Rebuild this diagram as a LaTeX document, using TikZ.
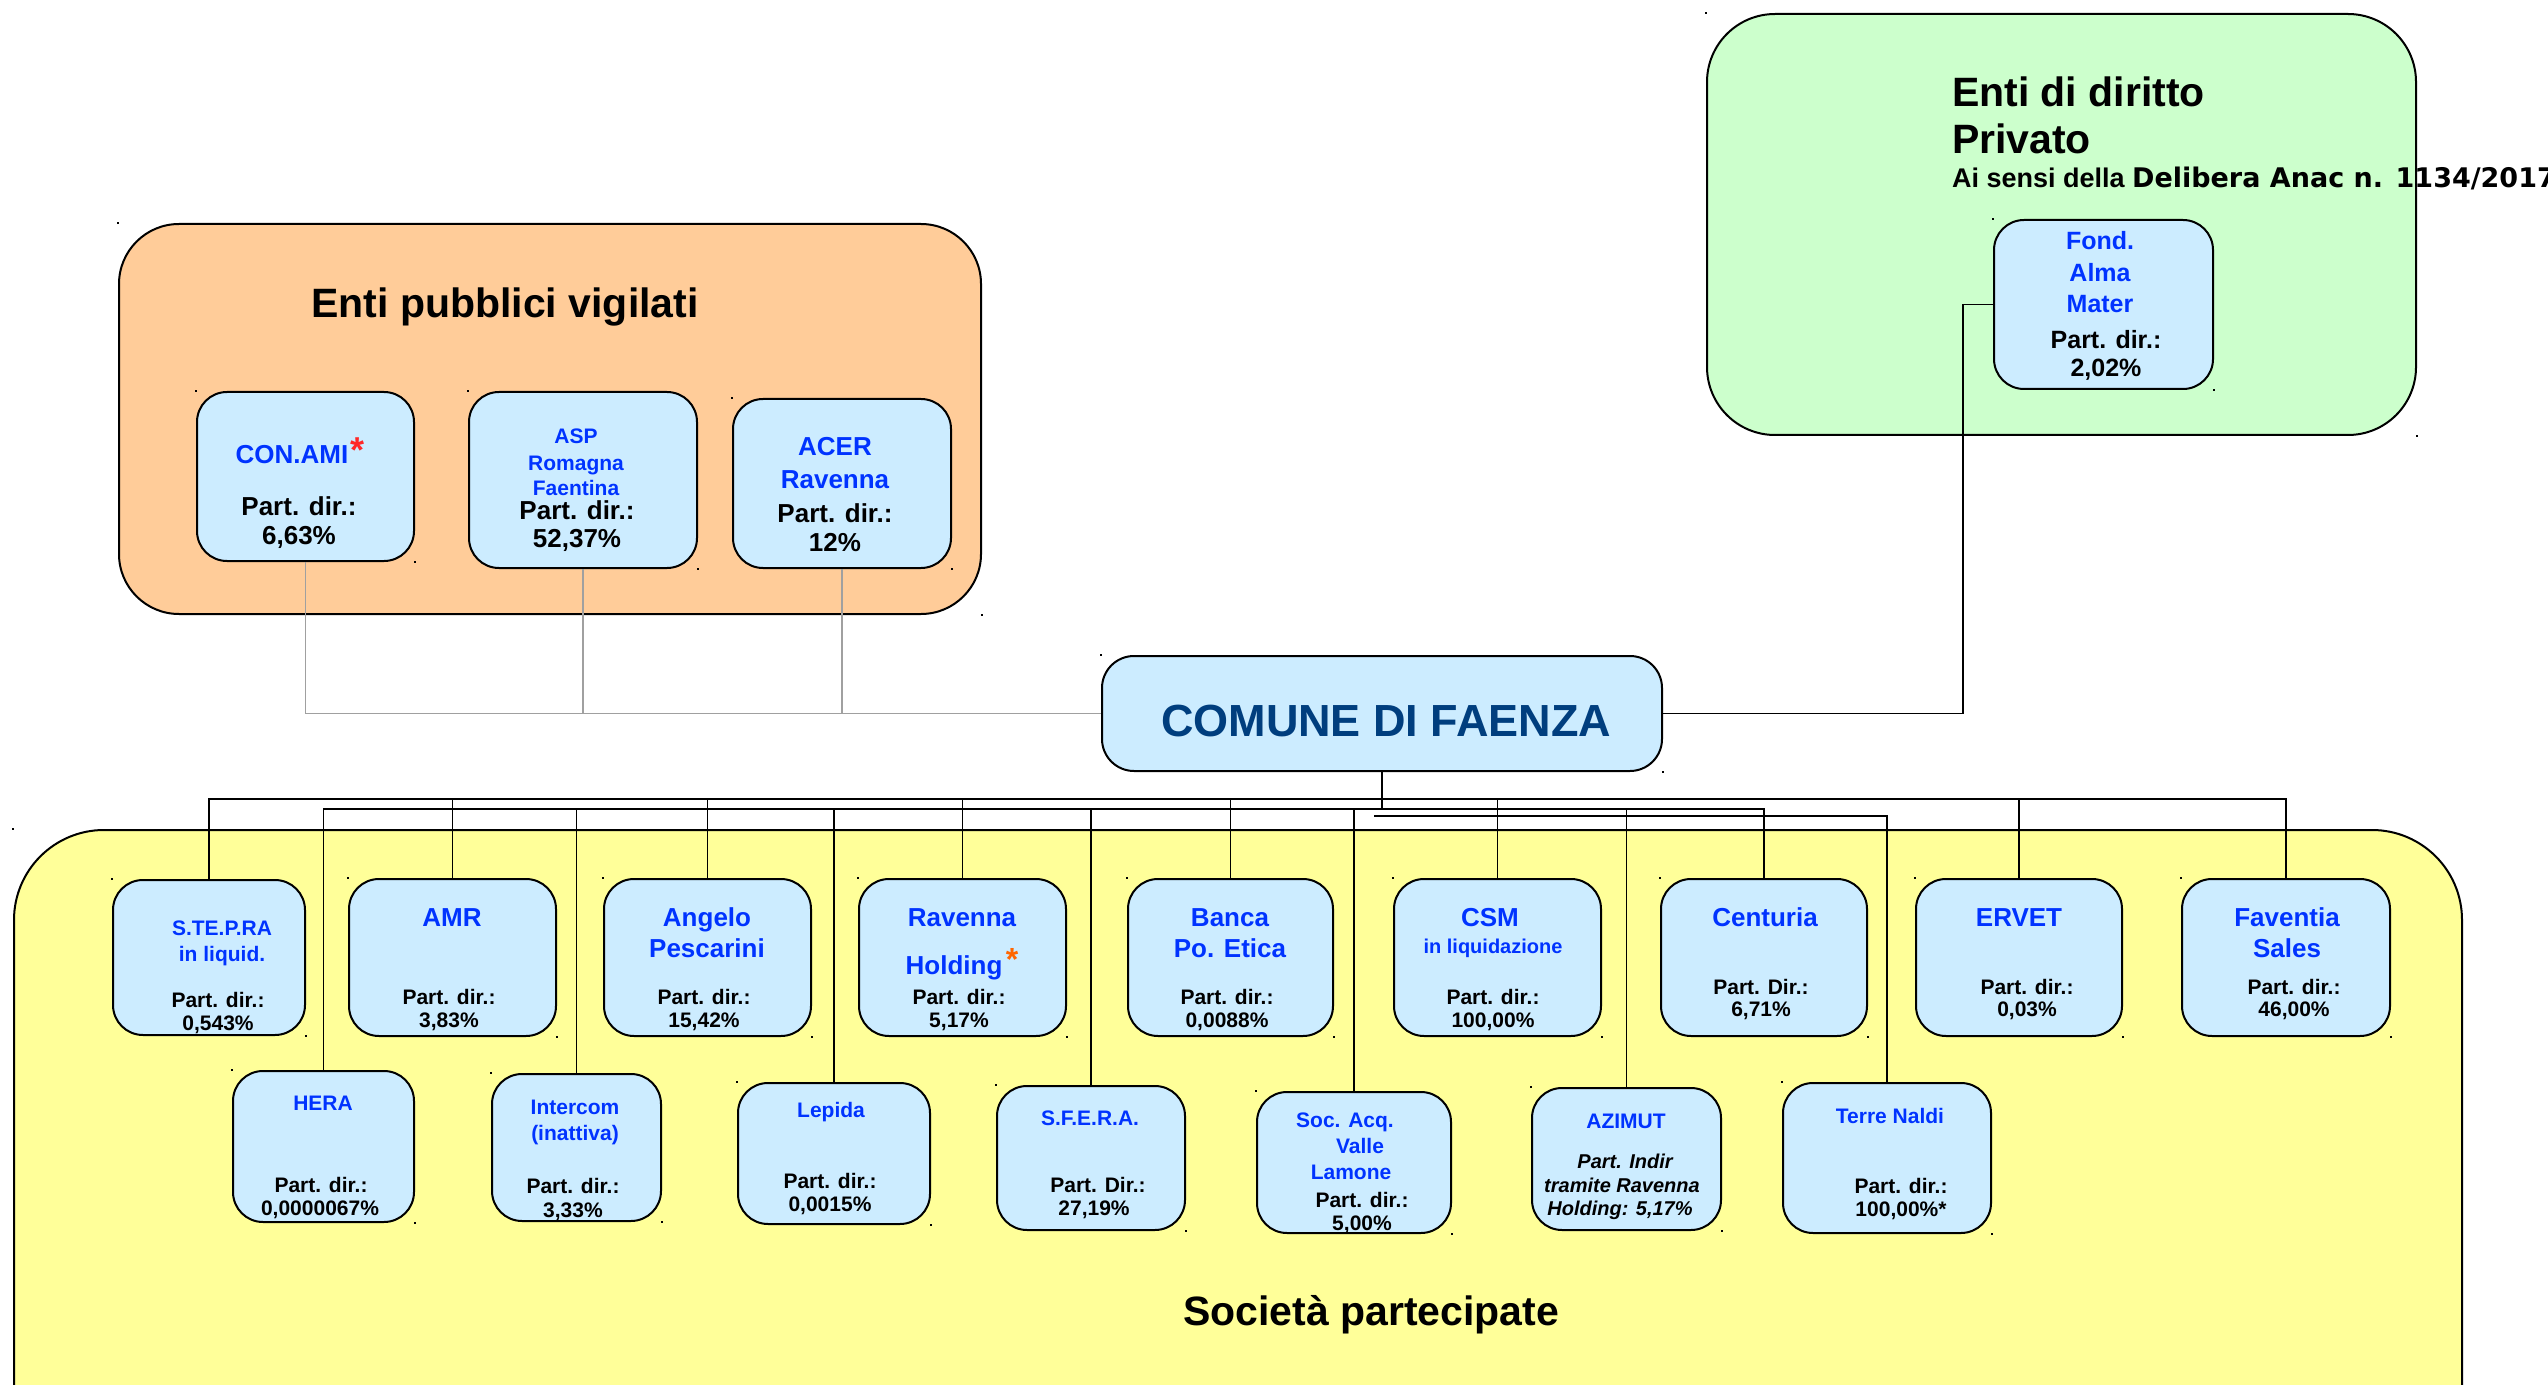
\documentclass[tikz,border=0pt]{standalone}
\usepackage{fontspec}
\setmainfont{Liberation Sans}
\newfontfamily\djv{DejaVu Sans}
\definecolor{boxblue}{RGB}{204,236,255}
\definecolor{orangebg}{RGB}{255,204,153}
\definecolor{greenbg}{RGB}{204,255,204}
\definecolor{yellowbg}{RGB}{255,255,153}
\definecolor{tblue}{RGB}{0,51,255}
\definecolor{navy}{RGB}{0,62,126}
\definecolor{gline}{RGB}{160,160,160}
\definecolor{starred}{RGB}{255,40,40}
\definecolor{starorange}{RGB}{255,102,0}
\newcommand\mkbox[6]{\node[#6, minimum width={(#4-#2)*0.5pt}, minimum height={(#5-#3)*0.5pt}] (#1) at ({(#2+#4)/2},{(#3+#5)/2}) {};}
\begin{document}
\begin{tikzpicture}[x=0.5pt,y=-0.5pt,
  big/.style={draw=black, line width=1pt, inner sep=0pt},
  sbox/.style={draw=black, line width=1pt, fill=boxblue, inner sep=0pt, rounded corners=15pt},
  conn/.style={draw=black, line width=0.9pt},
  gconn/.style={draw=gline, line width=0.8pt},
  tx/.style={anchor=base, inner sep=0pt, outer sep=0pt, text=black},
  blu/.style={tx, text=tblue},
  fT/.style={font=\fontsize{20.5}{24}\selectfont\bfseries},
  fL/.style={font=\fontsize{13}{15}\selectfont\bfseries},
  fM/.style={font=\fontsize{12.5}{15}\selectfont\bfseries},
  fS/.style={font=\fontsize{10.5}{12}\selectfont\bfseries},
  fX/.style={font=\fontsize{10}{12}\selectfont\bfseries},
  fI/.style={font=\fontsize{10}{12}\selectfont\bfseries\itshape},
]
\useasboundingbox (0,0) rectangle (2548,1385);
\clip (0,0) rectangle (2548,1385);
\fill[white] (0,0) rectangle (2548,1385);

% big areas
\mkbox{orange}{119}{224}{981}{614}{big, fill=orangebg, rounded corners=30pt}
\mkbox{green}{1707}{14}{2416}{435}{big, fill=greenbg, rounded corners=34pt}
\mkbox{yellow}{14}{830}{2462}{1560}{big, fill=yellowbg, rounded corners=45pt}

% titles
\node[tx, fT] (t-pub) at (505,318) {Enti pubblici vigilati};
\node[tx, fT, anchor=base west] (t-priv1) at (1952,107) {Enti di diritto};
\node[tx, fT, anchor=base west] (t-priv2) at (1952,154) {Privato};
\node[tx, anchor=base west, font=\fontsize{13.5}{16}\selectfont\bfseries] (t-priv3) at (1952,188) {Ai sensi della {\djv\bfseries Delibera Anac n. 1134/2017}};
\node[tx, fT] (t-soc) at (1371,1325) {Società partecipate};

% boxes
\mkbox{comune}{1102}{656}{1662}{771}{sbox, rounded corners=16pt}
\mkbox{conami}{197}{392}{414}{561}{sbox}
\mkbox{asp}{469}{392}{697}{568}{sbox}
\mkbox{acer}{733}{399}{951}{568}{sbox}
\mkbox{fond}{1994}{220}{2213}{389}{sbox}
\mkbox{stepra}{113}{880}{305}{1035}{sbox}
\mkbox{amr}{349}{879}{556}{1036}{sbox}
\mkbox{angelo}{604}{879}{811}{1036}{sbox}
\mkbox{ravenna}{859}{879}{1066}{1036}{sbox}
\mkbox{banca}{1128}{879}{1333}{1036}{sbox}
\mkbox{csm}{1394}{879}{1601}{1036}{sbox}
\mkbox{centuria}{1661}{879}{1867}{1036}{sbox}
\mkbox{ervet}{1916}{879}{2122}{1036}{sbox}
\mkbox{faventia}{2182}{879}{2390}{1036}{sbox}
\mkbox{hera}{233}{1071}{414}{1222}{sbox}
\mkbox{intercom}{492}{1074}{661}{1221}{sbox}
\mkbox{lepida}{738}{1083}{930}{1224}{sbox}
\mkbox{sfera}{997}{1086}{1185}{1230}{sbox}
\mkbox{socacq}{1257}{1092}{1451}{1233}{sbox}
\mkbox{azimut}{1532}{1088}{1721}{1230}{sbox}
\mkbox{terre}{1783}{1083}{1991}{1233}{sbox}

% connectors
\coordinate (ub) at (0,799);
\coordinate (lb) at (0,809);
\coordinate (tb) at (1374,816);
\coordinate (fk) at (1963,0);
\begin{scope}[on background layer/.style={}]
\draw[conn] (stepra.north) |- (faventia.north |- ub) -- (faventia.north);
\foreach \n in {amr,angelo,ravenna,banca,csm,ervet} \draw[conn] (\n.north) -- (\n.north |- ub);
\draw[conn] (hera.north) |- (centuria.north |- lb) -- (centuria.north);
\foreach \n in {intercom,lepida,sfera,socacq,azimut} \draw[conn] (\n.north) -- (\n.north |- lb);
\draw[conn] (comune.south) -- (comune.south |- lb);
\draw[conn] (tb) -| (terre.north);
\draw[gconn] (conami.south) |- (comune.west);
\draw[gconn] (asp.south) -- (asp.south |- comune.west);
\draw[gconn] (acer.south) -- (acer.south |- comune.west);
\draw[conn] (comune.east) -| (fk |- fond.west) -- (fond.west);
\end{scope}

% texts
\node[tx, text=navy, font=\fontsize{22.5}{26}\selectfont\bfseries] (comune-t) at (1386,736) {COMUNE DI FAENZA};

\node[blu, fL] (conami-a) at (292,464) {CON.AMI};
\node[tx, text=starred, font=\fontsize{18}{20}\selectfont\bfseries] (conami-s) at (358,462) {*};
\node[tx, fL] (conami-b) at (299,516) {Part. dir.:};
\node[tx, fL] (conami-c) at (299,544) {6,63\%};

\node[blu, fS] (asp-a) at (576,444) {ASP};
\node[blu, fS] (asp-b) at (576,470) {Romagna};
\node[blu, fS] (asp-c) at (576,495) {Faentina};
\node[tx, fL] (asp-d) at (577,519) {Part. dir.:};
\node[tx, fL] (asp-e) at (577,547) {52,37\%};

\node[blu, fL] (acer-a) at (835,456) {ACER};
\node[blu, fL] (acer-b) at (835,488) {Ravenna};
\node[tx, fL] (acer-c) at (835,522) {Part. dir.:};
\node[tx, fL] (acer-d) at (835,551) {12\%};

\node[blu, fM] (fond-a) at (2100,250) {Fond.};
\node[blu, fM] (fond-b) at (2100,282) {Alma};
\node[blu, fM] (fond-c) at (2100,313) {Mater};
\node[tx, fM] (fond-d) at (2106,349) {Part. dir.:};
\node[tx, fM] (fond-e) at (2106,377) {2,02\%};

% row 1
\node[blu, fS] (stepra-a) at (222,935.5) {S.TE.P.RA};
\node[blu, fS] (stepra-b) at (222,961) {in liquid.};
\node[tx, fS] (stepra-c) at (218,1007.5) {Part. dir.:};
\node[tx, fS] (stepra-d) at (218,1030.5) {0,543\%};

\node[blu, fL] (amr-a) at (452,926) {AMR};
\node[tx, fS] (amr-b) at (449,1004.5) {Part. dir.:};
\node[tx, fS] (amr-c) at (449,1027.5) {3,83\%};

\node[blu, fL] (angelo-a) at (707,926) {Angelo};
\node[blu, fL] (angelo-b) at (707,957) {Pescarini};
\node[tx, fS] (angelo-c) at (704,1004.5) {Part. dir.:};
\node[tx, fS] (angelo-d) at (704,1027.5) {15,42\%};

\node[blu, fL] (ravenna-a) at (962,926) {Ravenna};
\node[blu, fL] (ravenna-b) at (954,974) {Holding};
\node[tx, text=starorange, font=\fontsize{16}{18}\selectfont\bfseries] (ravenna-s) at (1012,970) {*};
\node[tx, fS] (ravenna-c) at (959,1004.5) {Part. dir.:};
\node[tx, fS] (ravenna-d) at (959,1027.5) {5,17\%};

\node[blu, fL] (banca-a) at (1230,926) {Banca};
\node[blu, fL] (banca-b) at (1230,957) {Po. Etica};
\node[tx, fS] (banca-c) at (1227,1004.5) {Part. dir.:};
\node[tx, fS] (banca-d) at (1227,1027.5) {0,0088\%};

\node[blu, fL] (csm-a) at (1490,926) {CSM};
\node[blu, fX] (csm-b) at (1493,953) {in liquidazione};
\node[tx, fS] (csm-c) at (1493,1004.5) {Part. dir.:};
\node[tx, fS] (csm-d) at (1493,1027.5) {100,00\%};

\node[blu, fL] (centuria-a) at (1765,926) {Centuria};
\node[tx, fS] (centuria-b) at (1761,994.5) {Part. Dir.:};
\node[tx, fS] (centuria-c) at (1761,1016.5) {6,71\%};

\node[blu, fL] (ervet-a) at (2019,926) {ERVET};
\node[tx, fS] (ervet-b) at (2027,994.5) {Part. dir.:};
\node[tx, fS] (ervet-c) at (2027,1016.5) {0,03\%};

\node[blu, fL] (faventia-a) at (2287,926) {Faventia};
\node[blu, fL] (faventia-b) at (2287,957) {Sales};
\node[tx, fS] (faventia-c) at (2294,994.5) {Part. dir.:};
\node[tx, fS] (faventia-d) at (2294,1016.5) {46,00\%};

% row 2
\node[blu, fS] (hera-a) at (323,1110.5) {HERA};
\node[tx, fS] (hera-b) at (321,1192.5) {Part. dir.:};
\node[tx, fS] (hera-c) at (320,1215.5) {0,0000067\%};

\node[blu, fS] (intercom-a) at (575,1114.5) {Intercom};
\node[blu, fS] (intercom-b) at (575,1140.5) {(inattiva)};
\node[tx, fS] (intercom-c) at (573,1193.5) {Part. dir.:};
\node[tx, fS] (intercom-d) at (573,1217.5) {3,33\%};

\node[blu, fS] (lepida-a) at (831,1117.5) {Lepida};
\node[tx, fS] (lepida-b) at (830,1188.5) {Part. dir.:};
\node[tx, fS] (lepida-c) at (830,1211.5) {0,0015\%};

\node[blu, fS] (sfera-a) at (1090,1125.5) {S.F.E.R.A.};
\node[tx, fS] (sfera-b) at (1098,1192.5) {Part. Dir.:};
\node[tx, fS] (sfera-c) at (1094,1215.5) {27,19\%};

\node[blu, fS] (socacq-a) at (1345,1127.5) {Soc. Acq.};
\node[blu, fS] (socacq-b) at (1360,1153.5) {Valle};
\node[blu, fS] (socacq-c) at (1351,1179.5) {Lamone};
\node[tx, fS] (socacq-d) at (1362,1207.5) {Part. dir.:};
\node[tx, fS] (socacq-e) at (1362,1230.5) {5,00\%};

\node[blu, fS] (azimut-a) at (1626,1128.5) {AZIMUT};
\node[tx, fI] (azimut-b) at (1625,1168.5) {Part. Indir};
\node[tx, fI] (azimut-c) at (1622,1192.5) {tramite Ravenna};
\node[tx, fI] (azimut-d) at (1620,1215.5) {Holding: 5,17\%};

\node[blu, fS] (terre-a) at (1890,1123.5) {Terre Naldi};
\node[tx, fS] (terre-b) at (1901,1193.5) {Part. dir.:};
\node[tx, fS] (terre-c) at (1901,1216.5) {100,00\%*};

% corner marks
\foreach \n in {orange,green,yellow,comune,conami,asp,acer,fond,stepra,amr,angelo,ravenna,banca,csm,centuria,ervet,faventia,hera,intercom,lepida,sfera,socacq,azimut,terre} {
  \fill[black] (\n.north west) ++(-1.3,-1.3) rectangle ++(2.6,2.6);
  \fill[black] (\n.south east) ++(-1.3,-1.3) rectangle ++(2.6,2.6);
}
\end{tikzpicture}
\end{document}
